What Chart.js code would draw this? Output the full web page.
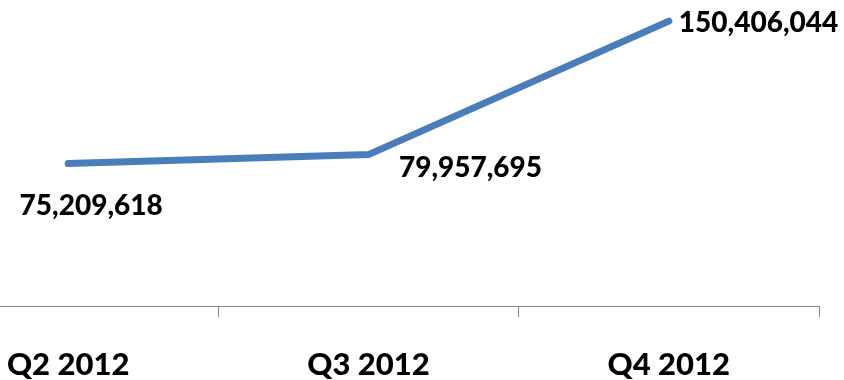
<!DOCTYPE html>
<html>
<head>
<meta charset="utf-8">
<script src="https://cdn.jsdelivr.net/npm/chart.js@4"></script>
<style>
  html, body { margin: 0; padding: 0; background: #fff; overflow: hidden; }
  #wrap { position: absolute; left: -82px; top: 0; width: 926px; height: 380px; }
</style>
</head>
<body>
<div id="wrap"><canvas id="myChart" width="926" height="380"></canvas></div>
<script>
const quarters = ["Q2 2012", "Q3 2012", "Q4 2012"];
const totals = [75209618, 79957695, 150406044];

// where each value label sits relative to its point (dx, dy, align)
const labelSpots = [
  { dx: 23, dy: 42, align: "center" },
  { dx: 102, dy: 13, align: "center" },
  { dx: 10, dy: 2, align: "left" },
];

const valueLabels = {
  id: "valueLabels",
  afterDatasetsDraw(chart) {
    const ctx = chart.ctx;
    const meta = chart.getDatasetMeta(0);
    ctx.save();
    ctx.font = "900 28px Lato";
    ctx.fillStyle = "#000";
    ctx.textBaseline = "middle";
    meta.data.forEach(function (pt, i) {
      const spot = labelSpots[i];
      ctx.textAlign = spot.align;
      ctx.fillText(totals[i].toLocaleString("en-US"), pt.x + spot.dx, pt.y + spot.dy);
    });
    ctx.restore();
  },
};

const ctx = document.getElementById("myChart");
const chart = new Chart(ctx, {
  type: "line",
  data: {
    labels: quarters,
    datasets: [{
      data: totals,
      borderColor: "#4a7ebb",
      borderWidth: 7,
      borderCapStyle: "round",
      borderJoinStyle: "round",
      pointRadius: 0,
      tension: 0,
      fill: false,
    }],
  },
  options: {
    responsive: false,
    animation: false,
    layout: { padding: { top: 3, right: 25, left: 0, bottom: 0 } },
    plugins: {
      legend: { display: false },
      tooltip: { enabled: false },
    },
    scales: {
      x: {
        offset: true,
        afterFit: function (scale) { scale.height = 74; },
        grid: {
          display: true,
          drawOnChartArea: false,
          drawTicks: true,
          tickLength: 11,
          color: "#898989",
          offset: true,
        },
        border: { display: true, color: "#898989", width: 1 },
        ticks: {
          color: "#000",
          padding: 29,
          font: { family: "Lato", weight: "900", size: 31 },
        },
      },
      y: {
        display: false,
        min: 0,
        max: 160000000,
      },
    },
  },
  plugins: [valueLabels],
});
</script>
</body>
</html>
